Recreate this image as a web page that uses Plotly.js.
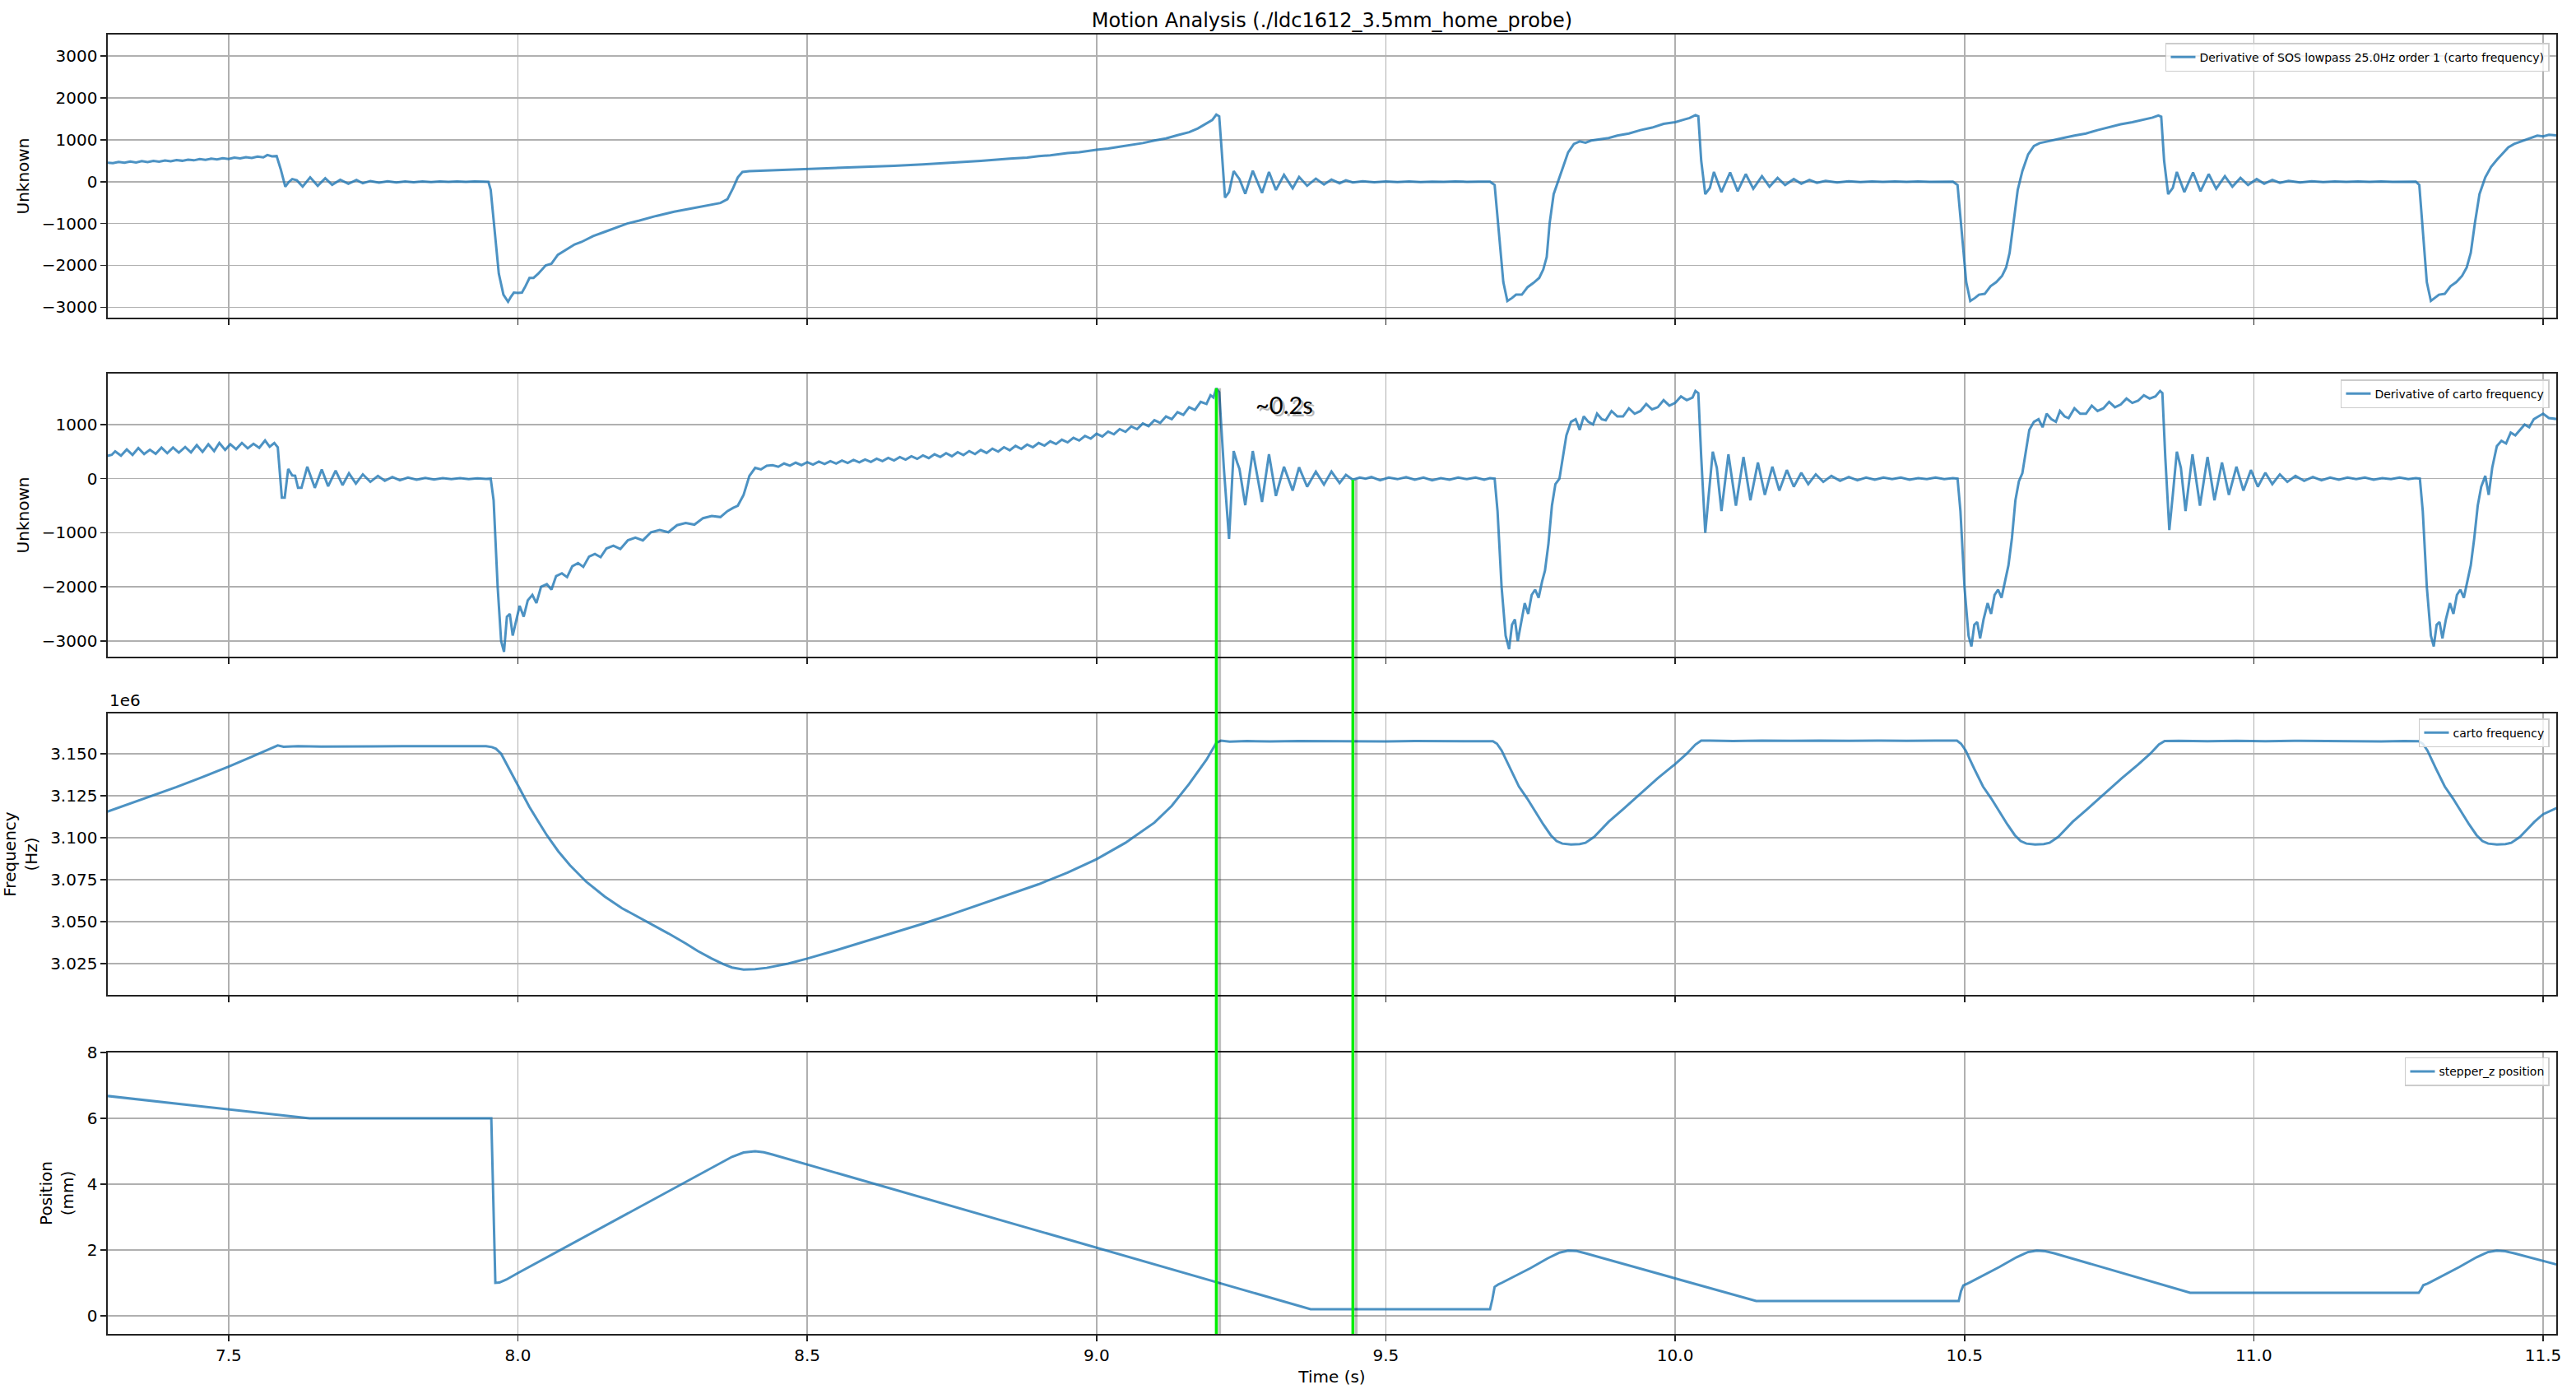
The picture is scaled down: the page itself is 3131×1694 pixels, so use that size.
<!DOCTYPE html>
<html><head><meta charset="utf-8">
<script src="https://cdn.plot.ly/plotly-3.0.1.min.js"></script>
<style>html,body{margin:0;padding:0;background:#fff}</style>
</head><body><div id="chart" style="width:3131px;height:1694px"></div>
<script>
// ---------- DATA ----------
const chartTitle = "Motion Analysis (./ldc1612_3.5mm_home_probe)";
const seriesNames = ["Derivative of SOS lowpass 25.0Hz order 1 (carto frequency)", "Derivative of carto frequency", "carto frequency", "stepper_z position"];

// Panel 1: derivative of lowpassed frequency
const t1 = [7.29,7.30,7.31,7.32,7.33,7.34,7.35,7.36,7.37,7.38,7.39,7.40,7.41,7.42,7.43,7.44,7.45,7.46,7.47,7.48,7.49,7.50,7.51,7.52,7.53,7.54,7.55,7.56,7.567,7.575,7.583,
7.590,7.598,7.604,7.610,7.618,7.628,7.641,7.654,7.667,7.679,7.693,7.707,7.721,7.732,7.745,7.760,7.775,7.790,7.805,7.820,7.835,7.850,7.865,7.880,7.895,7.910,7.925,7.940,7.949,
7.953,7.960,7.967,7.975,7.983,7.988,7.993,8.000,8.007,8.013,8.020,8.027,8.035,8.048,8.058,8.069,8.080,8.098,8.110,8.130,8.150,8.170,8.189,8.210,8.239,8.270,8.300,8.330,8.350,8.362,8.372,8.380,8.388,8.400,8.430,8.470,
8.50,8.55,8.60,8.65,8.70,8.75,8.80,8.85,8.88,8.90,8.92,8.95,8.97,9.00,9.02,9.04,9.06,9.08,9.10,9.12,9.14,9.16,9.175,9.19,9.200,9.207,9.212,
9.216,9.222,9.229,9.237,9.247,9.257,9.270,9.286,9.298,9.310,9.324,9.339,9.350,9.364,9.379,9.393,9.406,9.420,9.431,9.443,9.460,9.480,9.500,9.520,9.540,9.560,9.580,9.600,9.620,9.640,9.660,9.680,9.688,
9.695,9.703,9.710,9.718,9.725,9.735,9.745,9.755,9.765,9.772,9.778,9.783,9.790,9.797,9.805,9.815,9.825,9.835,9.845,9.855,9.870,9.885,9.900,9.920,9.940,9.960,9.980,10.000,10.015,10.025,10.035,10.040,
10.045,10.052,10.060,10.067,10.080,10.095,10.108,10.122,10.135,10.150,10.163,10.177,10.190,10.205,10.218,10.232,10.245,10.260,10.280,10.300,10.320,10.340,10.360,10.380,10.400,10.420,10.440,10.460,10.480,10.488,
10.495,10.503,10.510,10.518,10.525,10.535,10.545,10.555,10.565,10.572,10.578,10.585,10.592,10.600,10.610,10.620,10.630,10.640,10.655,10.670,10.690,10.710,10.730,10.750,10.770,10.790,10.810,10.825,10.835,10.840,
10.845,10.852,10.860,10.867,10.880,10.895,10.908,10.922,10.935,10.950,10.963,10.977,10.990,11.005,11.018,11.032,11.045,11.060,11.080,11.100,11.120,11.140,11.160,11.180,11.200,11.220,11.240,11.260,11.280,11.286,
11.292,11.299,11.306,11.313,11.320,11.330,11.340,11.350,11.360,11.368,11.375,11.382,11.390,11.400,11.410,11.420,11.430,11.440,11.450,11.460,11.470,11.480,11.490,11.500,11.510,11.525];
const v1 = [450,440,468,452,478,458,488,468,496,478,506,486,516,498,526,508,538,518,548,530,560,542,572,555,584,566,596,578,635,605,610,
300,-120,-10,60,30,-120,100,-100,80,-75,45,-50,40,-40,15,-25,10,-20,5,-15,5,-10,2,-8,2,-5,5,0,-5,
-200,-1200,-2200,-2700,-2870,-2750,-2650,-2660,-2650,-2500,-2300,-2300,-2200,-2000,-1960,-1750,-1660,-1500,-1440,-1300,-1200,-1100,-1000,-930,-820,-720,-640,-570,-510,-420,-150,100,230,250,265,285,
300,320,348,378,412,450,495,548,572,610,628,680,700,760,790,835,880,920,980,1030,1110,1180,1270,1380,1470,1600,1560,
800,-380,-250,250,60,-290,260,-270,230,-200,160,-160,110,-100,70,-70,50,-40,30,-20,10,-15,5,-10,5,-10,0,-8,5,-5,0,0,-80,
-1200,-2400,-2850,-2780,-2700,-2700,-2520,-2420,-2300,-2100,-1800,-1000,-300,0,300,700,900,960,930,980,1010,1040,1100,1150,1230,1290,1380,1420,1480,1520,1590,1560,
500,-300,-150,230,-250,220,-230,180,-170,130,-120,90,-80,60,-50,40,-30,20,-20,10,-10,5,-8,5,-5,5,-5,0,0,-80,
-1200,-2400,-2850,-2780,-2700,-2680,-2500,-2400,-2250,-2050,-1700,-900,-200,250,650,850,920,950,990,1040,1100,1150,1230,1300,1370,1420,1480,1530,1580,1550,
500,-300,-150,230,-250,220,-230,180,-170,130,-120,90,-80,60,-50,40,-30,20,-20,10,-10,5,-8,5,-5,5,-5,0,0,-80,
-1200,-2400,-2850,-2780,-2700,-2680,-2500,-2400,-2250,-2050,-1700,-1000,-300,100,350,520,680,820,900,950,1000,1060,1100,1080,1120,1100];

// Panel 2: raw derivative of frequency
const t2 = [7.290,7.298,7.304,7.314,7.324,7.334,7.344,7.354,7.364,7.374,7.384,7.394,7.404,7.414,7.425,7.435,7.445,7.455,7.465,7.475,7.484,7.494,7.503,7.513,7.523,7.533,7.543,7.553,7.563,7.571,7.579,7.585,
7.592,7.597,7.603,7.610,7.615,7.620,7.626,7.636,7.649,7.661,7.672,7.685,7.697,7.708,7.720,7.732,7.745,7.758,7.770,7.783,7.796,7.810,7.825,7.840,7.855,7.870,7.885,7.900,7.915,7.930,7.945,7.953,
7.958,7.965,7.971,7.976,7.981,7.986,7.991,7.997,8.003,8.010,8.017,8.025,8.032,8.040,8.050,8.058,8.066,8.076,8.085,8.094,8.104,8.113,8.123,8.133,8.143,8.153,8.165,8.177,8.190,8.203,8.216,8.230,8.245,8.260,8.275,8.290,8.305,8.320,8.335,8.350,8.362,8.372,8.380,8.390,8.400,8.410,8.420,8.430,8.440,
8.450,8.460,8.470,8.480,8.490,8.500,8.510,8.520,8.530,8.540,8.550,8.560,8.570,8.580,8.590,8.600,8.610,8.620,8.630,8.640,8.650,8.660,8.670,8.680,8.690,8.700,8.710,8.720,8.730,8.740,8.750,8.760,8.770,8.780,8.790,8.800,8.810,8.820,8.830,8.840,8.850,8.860,8.870,8.880,8.890,8.900,8.910,8.920,8.930,8.940,8.950,8.960,8.970,8.980,8.990,9.000,9.010,9.020,9.030,9.040,9.050,9.060,9.070,9.080,9.090,9.100,9.110,9.120,9.130,9.140,9.150,9.160,9.170,9.180,9.190,9.197,9.202,9.207,
9.212,9.220,9.229,9.237,9.243,9.247,9.257,9.270,9.286,9.298,9.310,9.324,9.339,9.350,9.364,9.379,9.393,9.406,9.420,9.431,9.443,9.455,9.465,9.475,9.490,9.505,9.520,9.535,9.550,9.565,9.580,9.595,9.610,9.625,9.640,9.655,9.670,9.680,9.688,
9.693,9.700,9.707,9.713,9.718,9.723,9.728,9.734,9.740,9.746,9.752,9.758,9.764,9.770,9.775,9.781,9.787,9.793,9.800,9.806,9.812,9.820,9.828,9.835,9.842,9.850,9.858,9.865,9.873,9.880,9.890,9.900,9.910,9.920,9.930,9.940,9.950,9.960,9.970,9.980,9.990,10.000,10.010,10.020,10.030,10.035,10.040,
10.045,10.052,10.058,10.065,10.072,10.080,10.092,10.105,10.118,10.130,10.143,10.155,10.168,10.180,10.193,10.205,10.218,10.230,10.243,10.256,10.270,10.285,10.300,10.315,10.330,10.345,10.360,10.375,10.390,10.405,10.420,10.435,10.450,10.465,10.480,10.488,
10.493,10.500,10.507,10.512,10.517,10.522,10.527,10.533,10.540,10.546,10.552,10.558,10.564,10.570,10.576,10.582,10.588,10.594,10.600,10.606,10.612,10.620,10.628,10.635,10.642,10.650,10.658,10.665,10.673,10.680,10.690,10.700,10.710,10.720,10.730,10.740,10.750,10.760,10.770,10.780,10.790,10.800,10.810,10.820,10.830,10.838,10.842,
10.847,10.854,10.860,10.867,10.874,10.882,10.894,10.907,10.920,10.932,10.945,10.957,10.970,10.982,10.995,11.007,11.020,11.032,11.045,11.058,11.072,11.087,11.102,11.117,11.132,11.147,11.162,11.177,11.192,11.207,11.222,11.237,11.252,11.267,11.280,11.287,
11.292,11.299,11.306,11.311,11.316,11.321,11.326,11.332,11.339,11.345,11.351,11.357,11.363,11.369,11.375,11.381,11.387,11.393,11.400,11.406,11.412,11.420,11.428,11.436,11.444,11.452,11.460,11.468,11.476,11.484,11.492,11.500,11.510,11.525];
const v2 = [420,440,505,425,540,440,565,455,535,460,575,470,575,480,585,485,620,495,635,510,660,530,635,545,660,560,645,570,705,590,660,580,
-350,-350,180,60,55,-170,-170,220,-170,170,-140,150,-120,100,-90,80,-60,50,-40,30,-30,20,-20,15,-15,10,-10,10,-10,5,-5,0,
-400,-2000,-3000,-3200,-2550,-2500,-2900,-2600,-2350,-2550,-2250,-2150,-2300,-2000,-1950,-2050,-1800,-1750,-1820,-1620,-1560,-1630,-1440,-1390,-1450,-1290,-1240,-1300,-1140,-1090,-1140,-990,-950,-990,-860,-820,-850,-730,-690,-710,-600,-540,-500,-300,50,200,170,240,250,
220,280,240,295,250,305,260,315,270,325,280,335,290,345,300,355,310,370,325,385,335,400,350,415,365,430,380,450,400,470,415,490,435,510,455,530,475,555,500,580,525,605,550,630,580,660,610,690,640,720,670,755,705,790,740,830,780,870,820,915,865,965,915,1020,970,1080,1030,1150,1100,1230,1180,1320,1270,1420,1380,1540,1500,1670,
1600,200,-1115,510,300,180,-490,510,-430,450,-320,220,-220,210,-150,130,-110,130,-80,70,-20,20,0,30,-30,20,-10,30,-20,20,-30,10,-20,20,-10,20,-20,10,0,
-600,-2000,-2900,-3150,-2700,-2600,-3000,-2650,-2300,-2500,-2150,-2050,-2200,-1900,-1700,-1200,-500,-100,0,400,800,1050,1100,900,1150,1050,1000,1200,1100,1080,1250,1150,1150,1300,1200,1250,1380,1280,1320,1450,1350,1400,1520,1450,1500,1620,1580,
400,-1000,-300,500,200,-600,450,-500,400,-400,300,-300,220,-220,160,-150,110,-100,80,-60,50,-40,30,-30,20,-20,20,-10,20,-20,10,-10,20,-10,10,0,
-600,-2000,-2900,-3100,-2700,-2650,-2950,-2600,-2300,-2500,-2150,-2050,-2200,-1900,-1600,-1100,-400,-50,100,500,900,1050,1100,950,1200,1100,1050,1250,1150,1120,1300,1200,1200,1350,1250,1300,1420,1320,1370,1480,1400,1440,1540,1480,1520,1620,1580,
400,-950,-300,500,200,-600,450,-500,400,-400,300,-300,220,-220,160,-150,110,-100,80,-60,50,-40,30,-30,20,-20,20,-10,20,-20,10,-10,20,-10,10,0,
-600,-2000,-2900,-3100,-2700,-2650,-2950,-2600,-2300,-2500,-2150,-2050,-2200,-1900,-1600,-1100,-500,-150,50,-300,200,600,700,650,850,800,900,1000,950,1100,1150,1200,1120,1100];

// Panel 3: carto frequency (Hz)
const t3 = [7.290,7.330,7.370,7.410,7.450,7.500,7.540,7.570,7.585,7.595,7.620,7.660,7.700,7.750,7.800,7.850,7.900,7.945,7.955,7.962,7.971,7.980,7.990,8.000,8.010,8.020,8.035,8.050,8.070,8.090,8.118,8.150,8.180,8.226,8.260,8.290,8.311,8.335,8.355,8.370,8.390,8.410,8.430,8.467,8.500,8.550,8.600,8.650,8.700,8.750,8.800,8.850,8.900,8.950,9.000,9.050,9.100,9.130,9.160,9.190,9.207,9.215,9.230,9.260,9.300,9.350,9.400,9.450,9.500,9.550,9.600,9.650,9.685,
9.692,9.700,9.715,9.730,9.744,9.758,9.772,9.785,9.795,9.805,9.820,9.835,9.845,9.860,9.885,9.910,9.942,9.970,9.999,10.020,10.035,10.045,10.060,10.100,10.150,10.200,10.250,10.300,10.350,10.400,10.450,10.487,
10.494,10.502,10.517,10.532,10.546,10.560,10.574,10.587,10.597,10.607,10.622,10.637,10.647,10.662,10.687,10.712,10.744,10.772,10.800,10.821,10.836,10.846,10.870,10.920,10.970,11.020,11.070,11.120,11.170,11.220,11.260,11.285,
11.292,11.300,11.315,11.330,11.344,11.358,11.372,11.385,11.395,11.405,11.420,11.435,11.445,11.460,11.485,11.500,11.525];
const f3 = [3115500,3120300,3125200,3130200,3135500,3142300,3148200,3152800,3155000,3154200,3154500,3154300,3154500,3154400,3154500,3154400,3154500,3154500,3154000,3153000,3150000,3144200,3137500,3131000,3124500,3118300,3109800,3101500,3091800,3083600,3073800,3065000,3058000,3049500,3043000,3037000,3032500,3028000,3024700,3022700,3021500,3021700,3022500,3025000,3028000,3033000,3038200,3043400,3048800,3054500,3060500,3066200,3072300,3079200,3087200,3097000,3109000,3119000,3132000,3146500,3156500,3157800,3157200,3157600,3157300,3157600,3157400,3157500,3157300,3157600,3157400,3157500,3157500,
3156000,3152000,3141000,3130500,3123500,3115500,3108000,3101500,3098000,3096500,3096000,3096200,3097000,3100500,3109500,3117000,3127000,3135500,3143600,3150000,3155500,3157800,3157900,3157600,3157900,3157700,3157900,3157700,3157900,3157700,3157900,3157800,
3156000,3152000,3141000,3130500,3123500,3115500,3108000,3101500,3098000,3096500,3096000,3096200,3097000,3100500,3109500,3117000,3127000,3135500,3143600,3150000,3155500,3157600,3157700,3157500,3157700,3157500,3157700,3157500,3157600,3157400,3157600,3157500,
3156000,3152000,3141000,3130500,3123500,3115500,3108000,3101500,3098000,3096500,3096000,3096200,3097000,3100500,3109500,3114000,3118000];

// Panel 4: stepper_z position (mm)
const t4 = [7.290,7.640,7.954,7.957,7.961,7.968,7.980,8.000,8.100,8.200,8.300,8.350,8.370,8.390,8.410,8.425,8.440,9.370,9.680,9.684,9.688,9.695,9.700,9.750,9.780,9.800,9.815,9.830,9.845,10.140,10.490,10.494,10.498,10.505,10.510,10.560,10.590,10.610,10.625,10.640,10.655,10.890,11.285,11.289,11.293,11.300,11.305,11.355,11.385,11.405,11.420,11.435,11.450,11.525];
const p4 = [6.68,6.00,6.00,3.50,1.00,1.01,1.10,1.30,2.25,3.20,4.15,4.63,4.83,4.96,5.00,4.97,4.90,0.20,0.20,0.50,0.88,0.96,1.00,1.45,1.75,1.92,1.98,1.97,1.90,0.45,0.45,0.75,0.92,0.98,1.02,1.48,1.78,1.94,1.98,1.96,1.90,0.70,0.70,0.80,0.93,0.98,1.02,1.48,1.78,1.94,1.98,1.96,1.90,1.55];

// Axis ticks and labels
const xTicks = [7.5,8.0,8.5,9.0,9.5,10.0,10.5,11.0,11.5];
const xTickText = ["7.5","8.0","8.5","9.0","9.5","10.0","10.5","11.0","11.5"];
const y1Ticks = [-3000,-2000,-1000,0,1000,2000,3000];
const y1TickText = ["\u22123000","\u22122000","\u22121000","0","1000","2000","3000"];
const y2Ticks = [-3000,-2000,-1000,0,1000];
const y2TickText = ["\u22123000","\u22122000","\u22121000","0","1000"];
const y3Ticks = [3025000,3050000,3075000,3100000,3125000,3150000];
const y3TickText = ["3.025","3.050","3.075","3.100","3.125","3.150"];
const y4Ticks = [0,2,4,6,8];
const y4TickText = ["0","2","4","6","8"];
const yTitles = ["Unknown","Unknown","Frequency<br>(Hz)","Position<br>(mm)"];

// Marked interval (settling time) and its label
const markTimes = [9.207, 9.443];
const markTopValues = [1670, -20];   // panel-2 values where the markers start
const markLabel = "~0.2s";
const markLabelY = 1364;

// ---------- LAYOUT ----------
const FONT = "DejaVu Sans";
const BLUE = "rgba(31,119,180,0.8)";
const xRange = [7.2912, 11.5227];
const yRanges = [[-3250,3512],[-3290,1942],[3006370,3174000],[-0.55,8]];
const domains = [[0.7821,1],[0.5212,0.7391],[0.2609,0.4775],[0,0.2166]];

const xs = [t1,t2,t3,t4], ys = [v1,v2,f3,p4];
const traces = xs.map((x,i)=>({
  x:x, y:ys[i], type:'scatter', mode:'lines', name:seriesNames[i],
  xaxis: i===0?'x':'x'+(i+1), yaxis: i===0?'y':'y'+(i+1),
  legend: i===0?'legend':'legend'+(i+1), showlegend:true,
  line:{color:BLUE, width:3}, hoverinfo:'skip'
}));

const axisCommon = {
  ticks:'outside', ticklen:7, tickwidth:1.6, tickcolor:'#222',
  showline:true, linecolor:'#222', linewidth:1.6, mirror:true,
  showgrid:true, gridcolor:'#b0b0b0', gridwidth:1.6, zeroline:false,
  tickfont:{family:FONT, size:20, color:'#000'}
};
const yTickSets = [[y1Ticks,y1TickText],[y2Ticks,y2TickText],[y3Ticks,y3TickText],[y4Ticks,y4TickText]];
const legendTops = [0.9935, 0.7345, 0.4736, 0.2129];

const layout = {
  width:3131, height:1694, paper_bgcolor:'#fff', plot_bgcolor:'#fff',
  margin:{l:131, r:24, t:42, b:73},
  font:{family:FONT, size:20, color:'#000'},
  title:{text:chartTitle, font:{family:FONT, size:24, color:'#000'}, x:0.5, xref:'paper', xanchor:'center', y:1-25/1694, yref:'container', yanchor:'middle'},
  shapes:[], annotations:[]
};
for (let i=0;i<4;i++){
  const xk = i===0?'xaxis':'xaxis'+(i+1);
  const yk = i===0?'yaxis':'yaxis'+(i+1);
  const ya = i===0?'y':'y'+(i+1);
  const xa = i===0?'x':'x'+(i+1);
  layout[xk] = Object.assign({}, axisCommon, {
    domain:[0,1], anchor:ya, range:xRange, tickvals:xTicks, ticktext:xTickText,
    showticklabels: i===3
  });
  if (i===3) layout[xk].title = {text:'Time (s)', font:{family:FONT,size:20,color:'#000'}, standoff:8};
  layout[yk] = Object.assign({}, axisCommon, {
    domain:domains[i], anchor:xa, range:yRanges[i],
    tickvals:yTickSets[i][0], ticktext:yTickSets[i][1],
    title:{text:yTitles[i], font:{family:FONT,size:20,color:'#000'}, standoff:10}
  });
  const lk = i===0?'legend':'legend'+(i+1);
  layout[lk] = {x:0.9973, xanchor:'right', xref:'paper', y:legendTops[i], yanchor:'top', yref:'paper',
    bgcolor:'rgba(255,255,255,0.8)', bordercolor:'#cccccc', borderwidth:1.5,
    font:{family:FONT, size:14, color:'#000'}, itemwidth:30};
}

// paper y of a panel-2 value
function paperY2(v){
  const d = domains[1], r = yRanges[1];
  return d[0] + (v - r[0])/(r[1]-r[0])*(d[1]-d[0]);
}
markTimes.forEach((t,k)=>{
  const top = paperY2(markTopValues[k]);
  layout.shapes.push({type:'line', xref:'x', xsizemode:'pixel', xanchor:t, x0:4, x1:4, yref:'paper', y0:0, y1:top,
    line:{color:'rgba(0,0,0,0.25)', width:3.5}});
  layout.shapes.push({type:'line', xref:'x', x0:t, x1:t, yref:'paper', y0:0, y1:top,
    line:{color:'#00ee00', width:3.5}});
});
const midT = (markTimes[0]+markTimes[1])/2;
layout.annotations.push({xref:'x2', yref:'y2', x:midT, y:markLabelY, text:markLabel, showarrow:false,
  xshift:3, yshift:-3, font:{family:'Lato', size:29, color:'rgba(0,0,0,0.3)'}});
layout.annotations.push({xref:'x2', yref:'y2', x:midT, y:markLabelY, text:markLabel, showarrow:false,
  font:{family:'Lato', size:29, color:'#000'}});
layout.annotations.push({xref:'paper', yref:'paper', x:0, y:domains[2][1], xanchor:'left', yanchor:'bottom', yshift:2,
  text:'1e6', showarrow:false, font:{family:FONT, size:20, color:'#000'}});

Plotly.newPlot('chart', traces, layout, {staticPlot:true, displayModeBar:false});
</script></body></html>
